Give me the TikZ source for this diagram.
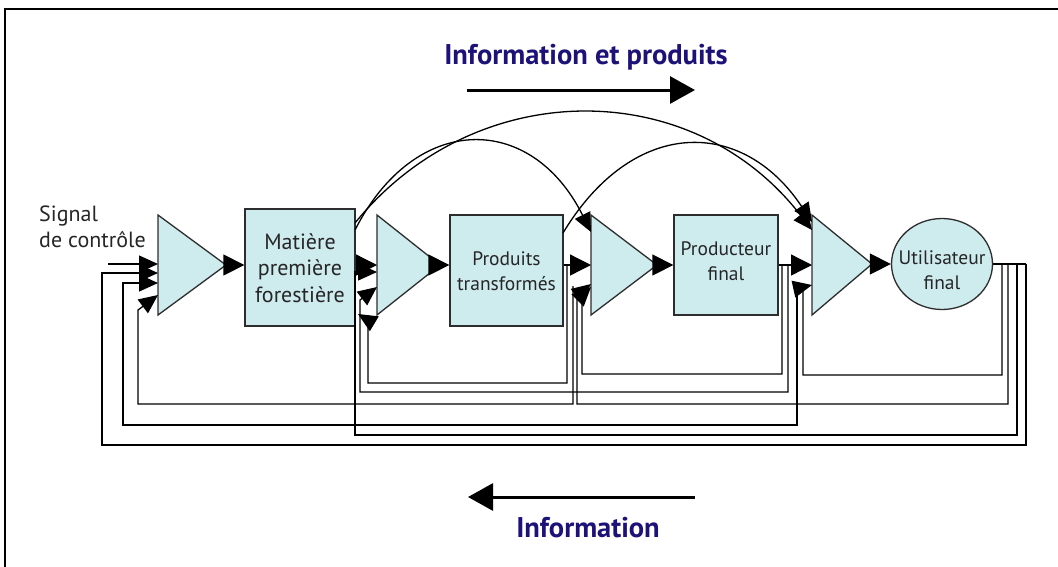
\documentclass[tikz,border=0pt]{standalone}
\usepackage{fontspec}
\setmainfont{PT Sans}
\usetikzlibrary{arrows.meta,shapes.geometric}
\definecolor{fillc}{RGB}{206,235,238}
\definecolor{navy}{RGB}{28,18,120}
\definecolor{edge}{RGB}{45,45,45}
\tikzset{
  blk/.style={draw=edge, line width=1.3pt, fill=fillc, inner sep=0pt},
  amp/.style={draw=edge, line width=1.3pt, fill=fillc, line join=miter},
  conn/.style={draw=black, line width=1.3pt, -{Triangle[length=19pt,width=17pt]}},
  mainc/.style={draw=black, line width=1.3pt, -{Triangle[length=21pt,width=21pt]}},
  wire/.style={draw=black, line width=1.3pt},
  lbla/.style={font=\fontsize{22}{26.5}\selectfont, align=center, inner sep=0pt, text=black!85},
  lblb/.style={font=\fontsize{19.5}{24.5}\selectfont, align=center, inner sep=0pt, text=black!85},
  ttl/.style={font=\fontsize{28.5}{30}\selectfont\bfseries, text=navy, inner sep=0pt},
  big/.style={line width=3pt, -{Triangle[length=25pt,width=27pt]}},
}
\begin{document}
\begin{tikzpicture}[x=1pt,y=-1pt]
\useasboundingbox (0,0) rectangle (1058,566);
\fill[white] (0,0) rectangle (1058,566);
\draw[line width=2.5pt] (1062,9) -- (5,9) -- (5,570);

% titles and big arrows
\node[ttl] (tt) at (586,57) {Information et produits};
\coordinate (ta) at (467,90);
\coordinate (tb) at (695,90);
\draw[big] (ta) -- (tb);
\node[ttl] (bt) at (588,528) {Information};
\coordinate (ba) at (695,497);
\coordinate (bb) at (468,497);
\draw[big] (ba) -- (bb);

% blocks
\node[blk, minimum width=110pt, minimum height=117pt] (mp) at (300,267.5) {};
\node[blk, minimum width=113pt, minimum height=111pt] (pt) at (506.5,270.5) {};
\node[blk, minimum width=104pt, minimum height=100pt] (pf) at (726,265) {};
\node[blk, ellipse, minimum width=101pt, minimum height=91pt] (uf) at (942,264) {};

\node[lbla] (mpl) at (300,268) {Matière\\première\\forestière};
\node[lblb] (ptl) at (506.5,271) {Produits\\transformés};
\node[lblb] (pfl) at (726,261) {Producteur\\final};
\node[lblb] (ufl) at (942,270) {Utilisateur\\final};
\node[lbla, anchor=west, align=left] (sig) at (39,227) {Signal\\de contrôle};

% amplifiers
\coordinate (t1a) at (158,215); \coordinate (t1b) at (158,315); \coordinate (t1c) at (226,265);
\coordinate (t2a) at (377,215); \coordinate (t2b) at (377,315); \coordinate (t2c) at (440,265);
\coordinate (t3a) at (591,215); \coordinate (t3b) at (591,315); \coordinate (t3c) at (657,265);
\coordinate (t4a) at (812,215); \coordinate (t4b) at (812,315); \coordinate (t4c) at (872,264);
\draw[amp] (t1a) -- (t1c) -- (t1b) -- cycle;
\draw[amp] (t2a) -- (t2c) -- (t2b) -- cycle;
\draw[amp] (t3a) -- (t3c) -- (t3b) -- cycle;
\draw[amp] (t4a) -- (t4c) -- (t4b) -- cycle;

% main chain
\draw[mainc] (t1c) -- (t1c -| mp.west);
\draw[mainc] (mp.east |- t2c) -- (t2a |- t2c);
\draw[mainc] (t2c) -- (t2c -| pt.west);
\draw[mainc] (pt.east |- t3c) -- (t3a |- t3c);
\draw[mainc] (t3c) -- (t3c -| pf.west);
\draw[mainc] (pf.east |- t3c) -- (t4a |- t3c);
\draw[mainc] (t4c) -- (uf.west);

% control signal
\coordinate (s0) at (108,264);
\draw[conn] (s0) -- (158,264);

% feed-forward arcs
\coordinate (m1) at (355,230);
\coordinate (m2) at (355,223);
\coordinate (p1) at (563,233);
\draw[conn] (m1) .. controls (415,112) and (531,112) .. (591,232);
\draw[conn] (m2) .. controls (475,75) and (692,75) .. (812,230);
\draw[conn] (p1) .. controls (633,117) and (742,117) .. (812,222);

% feedback from final user
\draw[wire] (uf.east) -- (1026,264);
\draw[conn] (1026,264) -- (1026,445) -- (102,445) -- (102,273) -- (158,273);
\draw[conn] (1017,264) -- (1017,435) -- (355,435) -- (355,272) -- (377,272);
\draw[conn] (1008,264) -- (1008,404) -- (577,404) -- (577,295) -- (591,284);
\draw[conn] (1002,264) -- (1002,375) -- (803,375) -- (803,287) -- (812,285);

% feedback from final producer
\draw[conn] (782,265) -- (782,374) -- (582,374) -- (582,296) -- (591,287);
\draw[conn] (788,265) -- (788,392) -- (360,392) -- (360,300) -- (377,287);
\draw[conn] (797,286) -- (797,425) -- (123,425) -- (123,283) -- (158,283);

% feedback from transformed products
\draw[conn] (567,265) -- (567,383) -- (368,383) -- (368,320) -- (358,314);
\draw[conn] (573,286) -- (573,404) -- (138,404) -- (138,310) -- (158,295);
\end{tikzpicture}
\end{document}
